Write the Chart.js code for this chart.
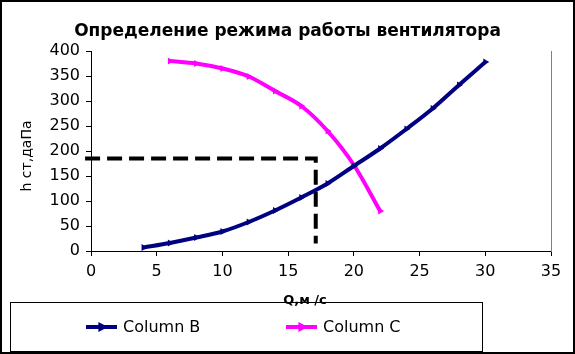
<!DOCTYPE html>
<html>
<head>
<meta charset="utf-8">
<script src="https://cdn.jsdelivr.net/npm/chart.js"></script>
<style>
  html, body { margin: 0; padding: 0; background: #fff; }
  canvas { display: block; }
</style>
</head>
<body>
<canvas id="chart" width="575" height="354"></canvas>
<script>
const TITLE = "Определение режима работы вентилятора";
const X_TITLE = "Q,м /с";
const Y_TITLE = "h ст,даПа";

// network curve (Column B)
const qB = [4, 6, 8, 10, 12, 14, 16, 18, 20, 22, 24, 26, 28, 30];
const hB = [7, 16, 27, 39, 58, 81, 107, 135, 170, 205, 244, 285, 332, 378];

// fan curve (Column C)
const qC = [6, 8, 10, 12, 14, 16, 18, 20, 22];
const hC = [380, 375, 365, 349, 320, 290, 240, 172, 80];

// operating point guide (dashed)
const qGuide = [-0.45, 17.1, 17.1];
const hGuide = [185, 185, 15];

const xTicks = [0, 5, 10, 15, 20, 25, 30, 35];
const yTicks = [0, 50, 100, 150, 200, 250, 300, 350, 400];

const FONT = "'DejaVu Sans', Verdana, sans-serif";
const NAVY = "#000080";
const MAGENTA = "#ff00ff";

const toPoints = (xs, ys) => xs.map((x, i) => ({ x: x, y: ys[i] }));

const legendItems = [
  { label: "Column B", color: NAVY, x: 86 },
  { label: "Column C", color: MAGENTA, x: 286 },
];

function triangleRight(ctx, cx, cy, r, color) {
  ctx.beginPath();
  ctx.moveTo(cx + r, cy);
  ctx.lineTo(cx - r * 0.6, cy - r * 0.85);
  ctx.lineTo(cx - r * 0.6, cy + r * 0.85);
  ctx.closePath();
  ctx.fillStyle = color;
  ctx.fill();
}

const framePlugin = {
  id: "frame",
  beforeDraw(chart) {
    const ctx = chart.ctx;
    ctx.save();
    ctx.fillStyle = "#fff";
    ctx.fillRect(0, 0, chart.width, chart.height);
    ctx.restore();
  },
  afterDraw(chart) {
    const ctx = chart.ctx;
    ctx.save();
    // outer border
    ctx.strokeStyle = "#000";
    ctx.lineWidth = 2;
    ctx.strokeRect(1, 1, chart.width - 2, chart.height - 2);

    // axis titles (placed where the original has them, a bit off-centre)
    ctx.fillStyle = "#000";
    ctx.textAlign = "center";
    ctx.textBaseline = "middle";
    ctx.font = "bold 13px " + FONT;
    ctx.fillText(X_TITLE, 305, 301);

    ctx.save();
    ctx.translate(27, 156);
    ctx.rotate(-Math.PI / 2);
    ctx.font = "14px " + FONT;
    ctx.fillText(Y_TITLE, 0, 0);
    ctx.restore();

    // legend box
    ctx.lineWidth = 1;
    ctx.strokeRect(10.5, 302.5, 472, 49);
    legendItems.forEach((item) => {
      const y = 327;
      ctx.strokeStyle = item.color;
      ctx.lineWidth = 4;
      ctx.beginPath();
      ctx.moveTo(item.x, y);
      ctx.lineTo(item.x + 31, y);
      ctx.stroke();
      triangleRight(ctx, item.x + 16, y, 6, item.color);
      ctx.fillStyle = "#000";
      ctx.font = "16px " + FONT;
      ctx.textBaseline = "middle";
      ctx.textAlign = "left";
      ctx.fillText(item.label, item.x + 37, y + 1);
    });
    ctx.restore();
  },
};

const lineStyle = (color) => ({
  borderColor: color,
  backgroundColor: color,
  borderWidth: 4,
  pointStyle: "triangle",
  rotation: 90,
  pointRadius: 4,
  pointBorderWidth: 0,
  cubicInterpolationMode: "monotone",
  fill: false,
});

new Chart(document.getElementById("chart").getContext("2d"), {
  type: "line",
  data: {
    datasets: [
      { label: "Column B", data: toPoints(qB, hB), ...lineStyle(NAVY) },
      { label: "Column C", data: toPoints(qC, hC), ...lineStyle(MAGENTA) },
      {
        label: "guide",
        data: toPoints(qGuide, hGuide),
        borderColor: "#000",
        borderWidth: 4,
        borderDash: [15, 7],
        pointRadius: 0,
        tension: 0,
        clip: false,
      },
    ],
  },
  options: {
    responsive: false,
    animation: false,
    layout: { padding: 0 },
    plugins: {
      legend: { display: false },
      tooltip: { enabled: false },
      title: {
        display: true,
        text: TITLE,
        color: "#000",
        font: { family: FONT, size: 17, weight: "bold" },
        padding: { top: 21, bottom: 9.6 },
      },
    },
    scales: {
      x: {
        type: "linear",
        min: 0,
        max: 35,
        afterBuildTicks: (s) => { s.ticks = xTicks.map((v) => ({ value: v })); },
        afterFit: (s) => { s.height = 103; },
        grid: { drawOnChartArea: false, color: "#000", tickLength: 5 },
        border: { color: "#000", width: 1 },
        ticks: { color: "#000", font: { family: FONT, size: 16 }, padding: 6, maxRotation: 0 },
        title: { display: false },
      },
      y: {
        min: 0,
        max: 400,
        afterBuildTicks: (s) => { s.ticks = yTicks.map((v) => ({ value: v })); },
        afterFit: (s) => { s.width = 91; },
        grid: { drawOnChartArea: false, color: "#000", tickLength: 5 },
        border: { color: "#000", width: 1 },
        ticks: { color: "#000", font: { family: FONT, size: 16 }, padding: 6 },
        title: { display: false },
      },
      y2: {
        position: "right",
        min: 0,
        max: 400,
        afterFit: (s) => { s.width = 24; },
        grid: { display: false },
        border: { color: "#808080", width: 1 },
        ticks: { display: false },
      },
    },
  },
  plugins: [framePlugin],
});
</script>
</body>
</html>
